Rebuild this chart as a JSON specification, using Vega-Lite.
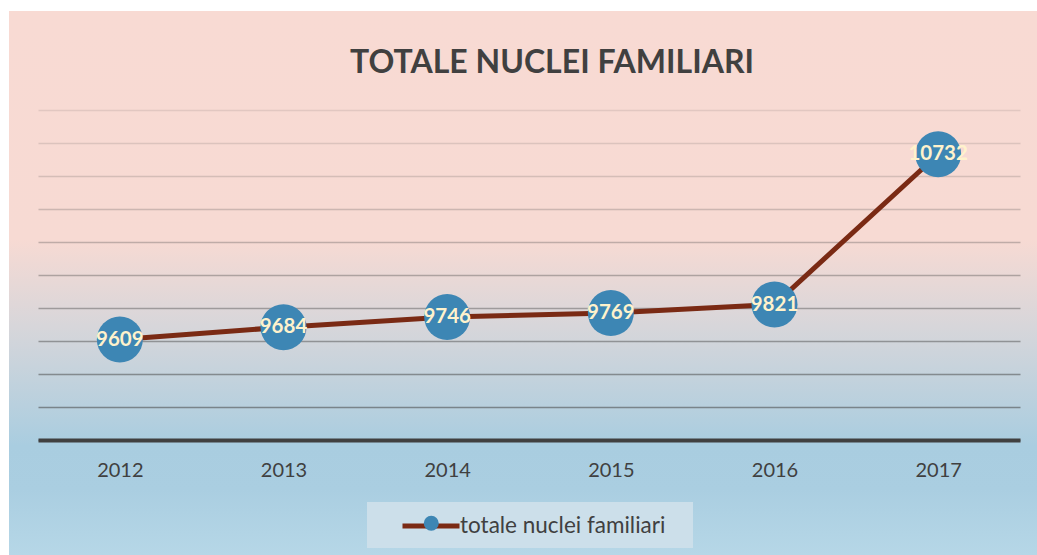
{
  "$schema": "https://vega.github.io/schema/vega-lite/v6.json",
  "width": 1028,
  "height": 544,
  "autosize": {"type": "none"},
  "padding": {"left": 9, "top": 11, "right": 0, "bottom": 0},
  "background": "#ffffff",
  "config": {
    "font": "Lato",
    "view": {
      "stroke": null,
      "fill": {
        "gradient": "linear",
        "x1": 0, "y1": 0, "x2": 0, "y2": 1,
        "stops": [
          {"offset": 0, "color": "#F8DAD3"},
          {"offset": 0.42, "color": "#F7DAD3"},
          {"offset": 0.58, "color": "#D7D6DA"},
          {"offset": 0.8, "color": "#A9CDE0"},
          {"offset": 0.88, "color": "#AACEE1"},
          {"offset": 1, "color": "#B6D7E7"}
        ]
      }
    }
  },
  "title": {
    "text": "TOTALE NUCLEI FAMILIARI",
    "font": "Lato",
    "fontSize": 32,
    "fontWeight": "bold",
    "color": "#404040",
    "anchor": "middle",
    "frame": "group",
    "orient": "top",
    "baseline": "alphabetic",
    "offset": -94,
    "dx": 29
  },
  "data": {
    "values": [
      {"anno": "2012", "valore": 9609, "serie": "totale nuclei familiari"},
      {"anno": "2013", "valore": 9684, "serie": "totale nuclei familiari"},
      {"anno": "2014", "valore": 9746, "serie": "totale nuclei familiari"},
      {"anno": "2015", "valore": 9769, "serie": "totale nuclei familiari"},
      {"anno": "2016", "valore": 9821, "serie": "totale nuclei familiari"},
      {"anno": "2017", "valore": 10732, "serie": "totale nuclei familiari"}
    ]
  },
  "encoding": {
    "x": {
      "field": "anno",
      "type": "ordinal",
      "scale": {"type": "point", "range": [29, 1011], "padding": 0.5},
      "axis": {
        "title": null,
        "grid": false,
        "ticks": false,
        "tickSize": 0,
        "domainColor": "#404040",
        "domainWidth": 4,
        "labelFont": "Lato",
        "labelFontSize": 20,
        "labelColor": "#404040",
        "labelAngle": 0,
        "labelBaseline": "middle",
        "labelPadding": 30,
        "offset": -115,
        "zindex": 1
      }
    },
    "y": {
      "field": "valore",
      "type": "quantitative",
      "scale": {"domain": [9000, 11000], "range": [429, 99]},
      "axis": {
        "title": null,
        "labels": false,
        "ticks": false,
        "domain": false,
        "grid": true,
        "values": [9000, 9200, 9400, 9600, 9800, 10000, 10200, 10400, 10600, 10800, 11000],
        "gridColor": "#4a4a4a",
        "gridWidth": 1.5,
        "gridOpacity": {
          "condition": [
            {"test": "datum.value >= 10900", "value": 0.13},
            {"test": "datum.value >= 10700", "value": 0.16},
            {"test": "datum.value >= 10500", "value": 0.2},
            {"test": "datum.value >= 10300", "value": 0.25},
            {"test": "datum.value >= 10100", "value": 0.32},
            {"test": "datum.value >= 9900", "value": 0.38},
            {"test": "datum.value >= 9700", "value": 0.43},
            {"test": "datum.value >= 9500", "value": 0.48},
            {"test": "datum.value >= 9300", "value": 0.53}
          ],
          "value": 0.57
        }
      }
    }
  },
  "layer": [
    {
      "mark": {"type": "line", "strokeWidth": 5},
      "encoding": {
        "stroke": {
          "field": "serie",
          "type": "nominal",
          "scale": {"range": ["#7A2A14"]},
          "legend": {
            "title": null,
            "orient": "none",
            "legendX": 358,
            "legendY": 491,
            "padding": 10,
            "fillColor": "#CCDFEA",
            "symbolType": "M-2.5,0H2.5",
            "symbolSize": 520,
            "symbolStrokeWidth": 5,
            "symbolOffset": 40,
            "labelOffset": 15,
            "labelLimit": 400,
            "labelFont": "Lato",
            "labelFontSize": 22.5,
            "labelColor": "#404040",
            "labelExpr": "datum.label + '\u00a0\u00a0\u00a0\u200b'",
            "zindex": 1
          }
        }
      }
    },
    {
      "mark": {"type": "point", "shape": "circle", "filled": true, "size": 2116, "opacity": 1},
      "encoding": {
        "fill": {
          "datum": "totale nuclei familiari",
          "type": "nominal",
          "scale": {"range": ["#3D86B4"]},
          "legend": {
            "title": null,
            "orient": "none",
            "legendX": 401,
            "legendY": 491,
            "padding": 10,
            "symbolType": "circle",
            "symbolSize": 225,
            "symbolStrokeWidth": 0,
            "labelFontSize": 22.5,
            "labelExpr": "''",
            "zindex": 2
          }
        }
      }
    },
    {
      "mark": {"type": "text", "font": "Lato", "fontSize": 20.5, "fontWeight": "bold", "fill": "#FFF2CC", "baseline": "middle", "align": "center"},
      "encoding": {
        "text": {"field": "valore", "type": "quantitative", "format": "d"}
      }
    }
  ]
}
